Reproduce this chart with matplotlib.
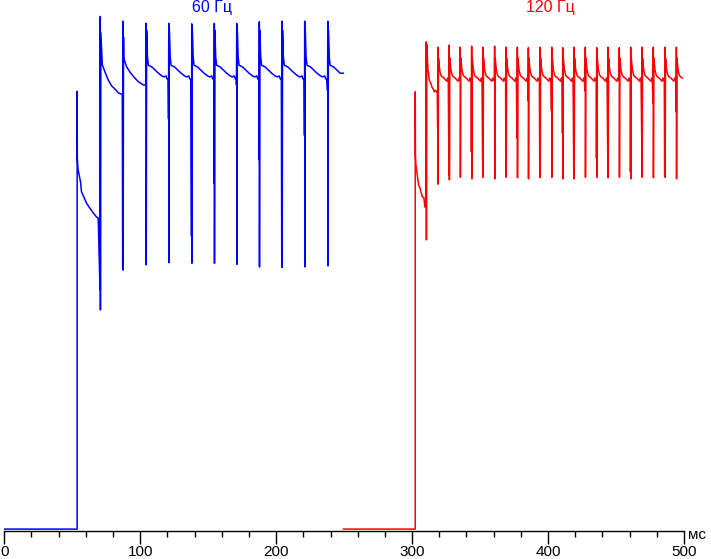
import matplotlib
matplotlib.use("Agg")
import matplotlib.pyplot as plt

# brightness in % of full scale, time in ms

# ---- 60 Hz part (blue) ----
blue_t0, blue_t1 = 0.0, 249.4
blue_rise_t, blue_rise_v = 53.6, 82.8
# decay after switching on: ms after rise, level
blue_first_dt = [0.1, 0.7, 2.5, 3.2, 4.9, 6.9, 9.3, 11.8, 14.3, 15.5]
blue_first_v = [70.2, 68.0, 65.7, 63.8, 62.9, 61.7, 60.8, 59.9, 59.1, 58.9]

blue_spike_t = [70.6, 87.3, 104.3, 121.0, 137.9, 154.5, 171.0, 187.6, 204.3, 221.0, 238.0]
blue_spike_top = [96.9, 96.0, 95.6, 95.6, 95.5, 95.6, 95.6, 95.9, 96.0, 96.0, 96.0]
blue_spike_bottom = [41.6, 49.1, 50.1, 50.5, 50.4, 50.4, 50.2, 49.7, 49.6, 49.7, 49.9]
blue_pre_dip = [45.4, 49.3, 84.0, 77.6, 55.5, 65.5, 84.0, 69.9, 51.9, 74.5, 82.9]

# plateau after a spike: ms after spike, level
blue_frame1_dt = [0.4, 1.5, 3.5, 5.9, 8.4, 10.9, 13.3, 15.1, 16.2]
blue_frame1_v = [93.8, 87.8, 86.4, 84.9, 83.8, 83.2, 82.5, 82.3, 82.3]
blue_frame2_dt = [0.4, 0.6, 2.7, 5.2, 7.6, 11.3, 14.9, 16.2]
blue_frame2_v = [93.0, 89.0, 87.4, 86.4, 85.6, 84.6, 84.0, 84.0]
blue_frame_dt = [0.4, 1.0, 1.7, 4.2, 6.6, 9.1, 11.6, 13.3, 14.7, 15.5, 16.2]
blue_frame_v = [94.3, 89.3, 87.7, 87.4, 86.8, 86.2, 85.7, 85.5, 85.7, 85.1, 85.1]

# ---- 120 Hz part (red) ----
red_t0, red_t1 = 249.5, 500.0
red_rise_t, red_rise_v = 302.3, 82.7
red_first_dt = [0.1, 0.5, 1.5, 2.5, 3.5, 4.4, 5.4, 6.4, 7.1]
red_first_v = [71.1, 68.9, 67.0, 65.1, 64.6, 63.6, 62.9, 62.7, 61.0]

red_spike_t = [310.4, 319.0, 327.3, 335.4, 343.8, 352.1, 360.7, 369.1, 377.4, 385.5, 394.1,
               402.7, 410.8, 419.1, 427.4, 435.8, 444.1, 452.4, 460.8, 469.1, 477.4, 486.0, 494.4]
red_spike_top = [92.1, 91.1, 91.5, 91.1, 91.3, 91.1, 91.3, 91.1, 91.1, 91.0, 91.1, 91.1,
                 91.0, 91.1, 91.1, 91.0, 91.1, 91.0, 91.1, 91.1, 91.1, 91.1, 91.1]
red_spike_bottom = [54.8, 65.3, 66.1, 66.6, 66.3, 66.6, 66.3, 66.6, 66.5, 66.3, 66.6, 66.6,
                    66.3, 66.3, 66.6, 66.6, 66.5, 66.6, 66.3, 66.6, 66.5, 66.6, 66.3]
red_pre_dip = [61.0, 76.1, 67.0, 84.9, 71.4, 69.7, 84.9, 68.3, 74.0, 81.0, 66.6, 79.1,
               74.9, 68.0, 82.9, 70.2, 70.6, 84.9, 67.6, 74.5, 80.6, 66.8, 78.9]

red_frame1_dt = [0.4, 1.25, 1.75, 2.2, 3.2, 4.2, 5.2, 5.9, 6.9, 7.65, 8.1]
red_frame1_v = [91.6, 86.8, 86.2, 84.9, 84.4, 83.6, 83.2, 82.7, 83.0, 82.7, 82.7]
red_frame_dt = [0.4, 1.25, 2.2, 3.2, 4.4, 5.7, 6.6, 7.1, 7.6, 8.1]
red_frame_v = [89.1, 86.8, 85.8, 85.5, 85.3, 84.9, 84.7, 85.3, 84.9, 84.9]

baseline = 0.3
x_ticks = [0, 100, 200, 300, 400, 500]


def build_trace(t0, t1, rise_t, rise_v, first_dt, first_v,
                spike_t, top, bottom, dip, profiles):
    t = [t0, rise_t, rise_t]
    v = [baseline, baseline, rise_v]
    for dt, val in zip(first_dt, first_v):
        t.append(rise_t + dt)
        v.append(val)
    for i, s in enumerate(spike_t):
        t += [s - 0.2, s, s + 0.12]
        v += [dip[i], top[i], bottom[i]]
        prof_dt, prof_v = profiles[min(i, len(profiles) - 1)]
        nxt = spike_t[i + 1] if i + 1 < len(spike_t) else t1
        for dt, val in zip(prof_dt, prof_v):
            if s + dt < nxt - 0.25 and s + dt <= t1:
                t.append(s + dt)
                v.append(val)
    return t, v


blue_t, blue_v = build_trace(
    blue_t0, blue_t1, blue_rise_t, blue_rise_v, blue_first_dt, blue_first_v,
    blue_spike_t, blue_spike_top, blue_spike_bottom, blue_pre_dip,
    [(blue_frame1_dt, blue_frame1_v), (blue_frame2_dt, blue_frame2_v),
     (blue_frame_dt, blue_frame_v)])
blue_t.append(blue_t1)
blue_v.append(blue_v[-1])

red_t, red_v = build_trace(
    red_t0, red_t1, red_rise_t, red_rise_v, red_first_dt, red_first_v,
    red_spike_t, red_spike_top, red_spike_bottom, red_pre_dip,
    [(red_frame1_dt, red_frame1_v), (red_frame_dt, red_frame_v)])

plt.rcParams['font.family'] = ['Liberation Sans Narrow', 'Liberation Sans', 'DejaVu Sans']

fig = plt.figure(figsize=(7.11, 5.59), dpi=100)
ax = fig.add_axes([4.3 / 711, (559 - 530.7) / 559, (684 - 4.3) / 711, 530.7 / 559])

ax.plot(blue_t, blue_v, color='#0000ff', linewidth=1.1)
ax.plot(red_t, red_v, color='#ff0000', linewidth=1.1)

ax.set_xlim(0, 500)
ax.set_ylim(0, 100)
for side in ['left', 'right', 'top']:
    ax.spines[side].set_visible(False)
ax.spines['bottom'].set_linewidth(1.0)
ax.set_yticks([])
ax.set_xticks(x_ticks)
ax.set_xticks(range(0, 501, 20), minor=True)
ax.tick_params(axis='x', which='major', length=9, width=1, pad=1, labelsize=11)
ax.tick_params(axis='x', which='minor', length=4.5, width=1)

ax.text(152.8, 98.6, '60 Гц', color='#0000ff', fontsize=11.5, ha='center', va='center', clip_on=False)
ax.text(401.4, 98.6, '120 Гц', color='#ff0000', fontsize=11.5, ha='center', va='center', clip_on=False)
fig.text(697 / 711, (559 - 535) / 559, 'мс', fontsize=11, ha='center', va='center')

fig.savefig('out.png', dpi=100)
